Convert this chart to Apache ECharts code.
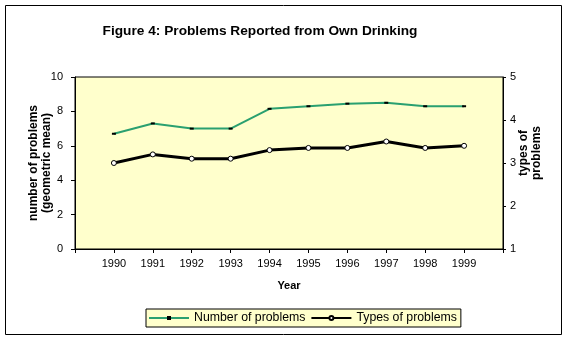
<!DOCTYPE html>
<html>
<head>
<meta charset="utf-8">
<script src="https://cdn.jsdelivr.net/npm/echarts@6/dist/echarts.min.js"></script>
<style>
  html, body { margin: 0; padding: 0; background: #ffffff; }
  #chart { width: 567px; height: 340px; }
</style>
</head>
<body>
<div id="chart"></div>
<script>
// Survey years and the two measured series
const years = [1990, 1991, 1992, 1993, 1994, 1995, 1996, 1997, 1998, 1999];
const numberOfProblems = [6.7, 7.3, 7.0, 7.0, 8.15, 8.3, 8.45, 8.5, 8.3, 8.3];   // left axis
const typesOfProblems = [3.0, 3.2, 3.1, 3.1, 3.3, 3.35, 3.35, 3.5, 3.35, 3.4];   // right axis
const seriesNames = ['Number of problems', 'Types of problems'];
const titleText = 'Figure 4: Problems Reported from Own Drinking';
const leftAxisName = 'number of problems\n(geometric mean)';
const rightAxisName = 'types of\nproblems';
const xAxisName = 'Year';

const FONT = 'Arial, "Liberation Sans", sans-serif';

const chart = echarts.init(document.getElementById('chart'), null, { renderer: 'canvas' });

chart.setOption({
  animation: false,
  backgroundColor: '#ffffff',
  title: {
    text: titleText,
    left: 255,
    top: 19,
    textAlign: 'center',
    textStyle: { fontFamily: FONT, fontSize: 13.7, fontWeight: 'bold', color: '#000' }
  },
  graphic: [{
    type: 'rect',
    shape: { x: 5.5, y: 5.5, width: 556, height: 329 },
    style: { fill: null, stroke: '#000', lineWidth: 1 },
    silent: true,
    z: 100
  }],
  grid: {
    left: 75, right: 64, top: 77, bottom: 91,
    show: true,
    backgroundColor: '#FFFFCC',
    borderColor: '#000',
    borderWidth: 1
  },
  legend: {
    left: 146,
    top: 309,
    itemWidth: 40,
    itemHeight: 5,
    itemGap: 5,
    padding: [3, 4, 3, 2],
    backgroundColor: '#FFFFCC',
    borderColor: '#000',
    borderWidth: 1,
    textStyle: { fontFamily: FONT, fontSize: 12.3, color: '#000' },
    data: seriesNames
  },
  xAxis: {
    type: 'value',
    min: years[0] - 1,
    max: years[years.length - 1] + 1,
    interval: 1,
    name: xAxisName,
    nameLocation: 'middle',
    nameGap: 31,
    nameMoveOverlap: false,
    nameTextStyle: { fontFamily: FONT, fontSize: 11, fontWeight: 'bold', color: '#000' },
    axisLine: { lineStyle: { color: '#000', width: 1 } },
    axisTick: { show: true, length: 4, lineStyle: { color: '#000' } },
    axisLabel: {
      fontFamily: FONT, fontSize: 11, color: '#000', margin: 9,
      formatter: v => (years.indexOf(v) >= 0 ? String(v) : '')
    },
    splitLine: { show: false }
  },
  yAxis: [{
    type: 'value',
    position: 'left',
    min: 0, max: 10, interval: 2,
    name: leftAxisName,
    nameLocation: 'middle',
    nameRotate: 90,
    nameGap: 22,
    nameMoveOverlap: false,
    nameTextStyle: { fontFamily: FONT, fontSize: 12, fontWeight: 'bold', color: '#000', lineHeight: 13 },
    axisLine: { show: true, lineStyle: { color: '#000', width: 1 } },
    axisTick: { show: true, length: 4, lineStyle: { color: '#000' } },
    axisLabel: { fontFamily: FONT, fontSize: 11, color: '#000', margin: 12 },
    splitLine: { show: false }
  }, {
    type: 'value',
    position: 'right',
    min: 1, max: 5, interval: 1,
    name: rightAxisName,
    nameLocation: 'middle',
    nameRotate: 90,
    nameGap: 14,
    nameMoveOverlap: false,
    nameTextStyle: {
      fontFamily: FONT, fontSize: 12, fontWeight: 'bold', color: '#000', lineHeight: 13,
      padding: [0, 0, 0, 20]
    },
    axisLine: { show: true, lineStyle: { color: '#000', width: 1 } },
    axisTick: { show: true, length: 3, lineStyle: { color: '#000' } },
    axisLabel: { fontFamily: FONT, fontSize: 11, color: '#000', margin: 7 },
    splitLine: { show: false }
  }],
  series: [{
    name: seriesNames[0],
    type: 'line',
    yAxisIndex: 0,
    data: years.map((y, i) => [y, numberOfProblems[i]]),
    symbol: 'rect',
    symbolSize: [4, 2],
    showSymbol: true,
    itemStyle: { color: '#000' },
    lineStyle: { color: '#2AA070', width: 2 },
    z: 3
  }, {
    name: seriesNames[1],
    type: 'line',
    yAxisIndex: 1,
    data: years.map((y, i) => [y, typesOfProblems[i]]),
    symbol: 'circle',
    symbolSize: 5,
    showSymbol: true,
    itemStyle: { color: '#fff', borderColor: '#000', borderWidth: 1 },
    lineStyle: { color: '#000', width: 3 },
    z: 2
  }]
});
</script>
</body>
</html>
